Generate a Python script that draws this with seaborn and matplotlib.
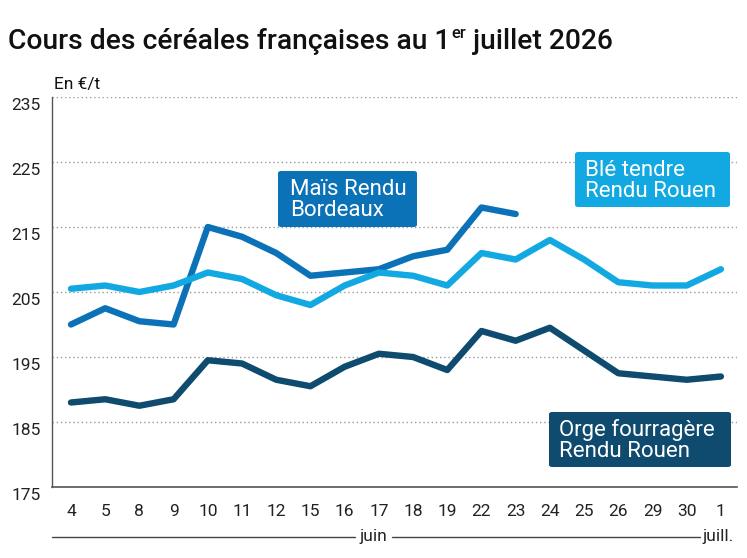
import matplotlib
matplotlib.use("Agg")
import matplotlib.pyplot as plt
import seaborn as sns
import pandas as pd
from matplotlib.patches import FancyBboxPatch
from matplotlib.lines import Line2D
from matplotlib.transforms import ScaledTranslation

# ---- data ----
days = ["4", "5", "8", "9", "10", "11", "12", "15", "16", "17",
        "18", "19", "22", "23", "24", "25", "26", "29", "30", "1"]
mais = [200, 202.5, 200.5, 200, 215, 213.5, 211, 207.5, 208, 208.5,
        210.5, 211.5, 218, 217]
ble = [205.5, 206, 205, 206, 208, 207, 204.5, 203, 206, 208,
       207.5, 206, 211, 210, 213, 210, 206.5, 206, 206, 208.5]
orge = [188, 188.5, 187.5, 188.5, 194.5, 194, 191.5, 190.5, 193.5, 195.5,
        195, 193, 199, 197.5, 199.5, 196, 192.5, 192, 191.5, 192]
series_names = ["Maïs Rendu\nBordeaux", "Blé tendre\nRendu Rouen",
                "Orge fourragère\nRendu Rouen"]
colors = ["#0B72B7", "#12A9E2", "#0E4B6E"]
yticks = [175, 185, 195, 205, 215, 225, 235]
months = ["juin", "juill."]
title_parts = ["Cours des céréales françaises au 1", "er", " juillet 2026"]
unit_label = "En €/t"

rows = []
for name, vals in zip(series_names, [mais, ble, orge]):
    for i, v in enumerate(vals):
        rows.append({"pos": i, "day": days[i], "value": v, "series": name})
df = pd.DataFrame(rows)

sns.set_theme(style="white")
plt.rcParams["font.family"] = ["Roboto", "DejaVu Sans"]

W, H = 747, 558
fig = plt.figure(figsize=(W / 100, H / 100), dpi=100)
ax = fig.add_axes([52 / W, 71 / H, 685 / W, 390 / H])

sns.lineplot(data=df, x="pos", y="value", hue="series",
             hue_order=series_names, palette=dict(zip(series_names, colors)),
             linewidth=4.6, legend=False, ax=ax, sort=False,
             solid_capstyle="round", solid_joinstyle="round")

ax.set_xlim(-0.555, 19.47)
ax.set_ylim(175, 235)
ax.set_xlabel("")
ax.set_ylabel("")
ax.set_xticks(range(len(days)))
ax.set_xticklabels(days)
ax.set_yticks(yticks)
ax.set_yticklabels([str(t) for t in yticks])
ax.tick_params(axis="x", length=0, pad=12, labelsize=12.5, labelcolor="#222222")
ax.tick_params(axis="y", length=0, pad=8, labelsize=12.5, labelcolor="#222222")
for lab in ax.get_yticklabels():
    lab.set_transform(lab.get_transform() + ScaledTranslation(0, -5 / 72, fig.dpi_scale_trans))

for s in ["top", "right"]:
    ax.spines[s].set_visible(False)
ax.spines["left"].set_color("#555555")
ax.spines["left"].set_linewidth(1.0)
ax.spines["bottom"].set_color("#555555")
ax.spines["bottom"].set_linewidth(1.2)
ax.yaxis.grid(True, linestyle=(0, (1, 2)), color="#9a9a9a", linewidth=1.0)
ax.set_axisbelow(True)

# label boxes
boxes = [(278, 171, 417, 227, 290), (575, 152, 730, 207, 585), (549, 412, 731, 467, 559)]
for (x0, y0, x1, y1, tx), name, c in zip(boxes, series_names, colors):
    p = FancyBboxPatch((x0 / W, 1 - y1 / H), (x1 - x0) / W, (y1 - y0) / H,
                       boxstyle="round,pad=0,rounding_size=0.004",
                       transform=fig.transFigure, facecolor=c, edgecolor="none", zorder=5)
    fig.add_artist(p)
    fig.text(tx / W, 1 - ((y0 + y1) / 2 + 1) / H, name, color="white", fontsize=16,
             ha="left", va="center", linespacing=1.0, zorder=6)

# month axis
ly = 1 - 537 / H
fig.add_artist(Line2D([52 / W, 355 / W], [ly, ly], color="#444444", lw=1.0))
fig.add_artist(Line2D([392 / W, 700 / W], [ly, ly], color="#444444", lw=1.0))
fig.text(373.5 / W, ly, months[0], ha="center", va="center", fontsize=12.5, color="#222222")
fig.text(703 / W, ly, months[1], ha="left", va="center", fontsize=12.5, color="#222222")

# unit label
fig.text(54 / W, 1 - 89 / H, unit_label, ha="left", va="baseline", fontsize=12.5, color="#111111")

# title with superscript
r = fig.canvas.get_renderer()
t1 = fig.text(8 / W, 1 - 49 / H, title_parts[0], ha="left", va="baseline",
              fontsize=20.3, fontweight="medium", color="#111111")
bb = t1.get_window_extent(r)
t2 = fig.text(bb.x1 / W + 1 / W, 1 - 38 / H, title_parts[1], ha="left", va="baseline",
              fontsize=12, fontweight="medium", color="#111111")
bb2 = t2.get_window_extent(r)
fig.text(bb2.x1 / W, 1 - 49 / H, title_parts[2], ha="left", va="baseline",
         fontsize=20.3, fontweight="medium", color="#111111")

fig.savefig("out.png", dpi=100, facecolor="white")
